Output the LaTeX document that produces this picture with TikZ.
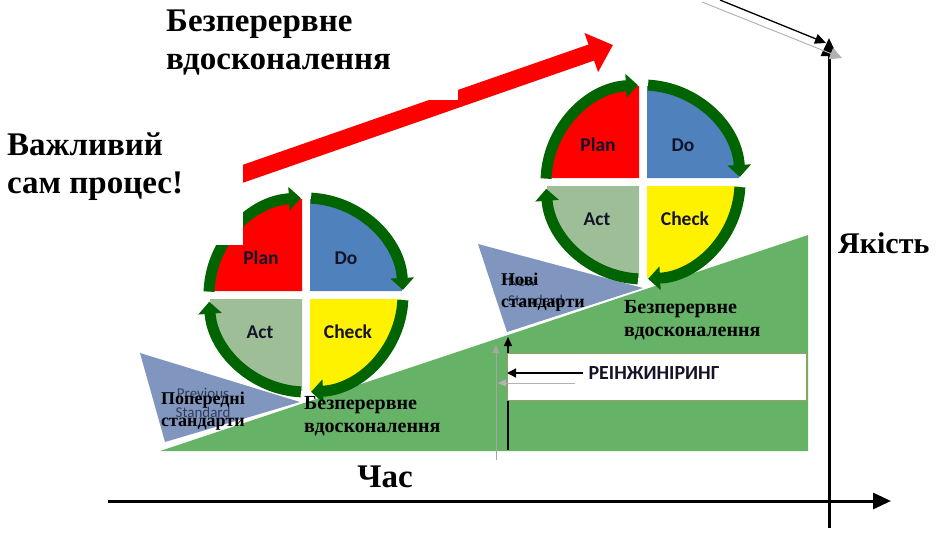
\documentclass[tikz,border=0pt]{standalone}
\usepackage{fontspec}
\setmainfont{Liberation Serif}
\newfontfamily\carlito{Carlito}
\usetikzlibrary{arrows.meta}
\definecolor{gfield}{RGB}{102,178,102}
\definecolor{tri}{RGB}{128,150,190}
\definecolor{ringg}{RGB}{0,100,0}
\definecolor{pdo}{RGB}{79,129,189}
\definecolor{pact}{RGB}{158,190,152}
\definecolor{boxedge}{RGB}{150,160,100}
\definecolor{pdcaink}{RGB}{20,20,40}
\definecolor{ghost}{RGB}{50,60,92}
\tikzset{
  ring/.style={ringg, line width=11pt, -{Triangle[length=12pt,width=23pt]}},
  pdcatext/.style={font=\carlito\bfseries\fontsize{19.5}{21}\selectfont, text=pdcaink},
  bigtext/.style={font=\bfseries\fontsize{33}{38}\selectfont, align=left, inner sep=0pt},
  midtext/.style={font=\bfseries\fontsize{20}{23}\selectfont, align=left, inner sep=0pt},
  stdtext/.style={font=\bfseries\fontsize{18}{22}\selectfont, align=left, inner sep=0pt},
  ghosttext/.style={font=\carlito\fontsize{15}{19}\selectfont, text=ghost, align=center, inner sep=0pt},
  axisline/.style={black, line width=3pt, -{Triangle[length=18pt,width=16pt]}},
  pdca/.pic={
    \begin{scope}[yscale=-1]
      \fill[red]    (-4,4)   -- ++(-92,0) arc[start angle=180,end angle=90,radius=92] -- cycle;
      \fill[pdo]    (4,4)    -- ++(0,92)  arc[start angle=90,end angle=0,radius=92] -- cycle;
      \fill[yellow] (4,-4)   -- ++(92,0)  arc[start angle=0,end angle=-90,radius=92] -- cycle;
      \fill[pact]   (-4,-4)  -- ++(0,-92) arc[start angle=-90,end angle=-180,radius=92] -- cycle;
      \draw[ring] (178:97) arc[start angle=178,end angle=93,radius=97];
      \draw[ring] (87:97) arc[start angle=87,end angle=3,radius=97];
      \draw[ring] (-3:97) arc[start angle=-3,end angle=-87,radius=97];
      \draw[ring] (-93:97) arc[start angle=-93,end angle=-176,radius=97];
      \node[pdcatext] (-plan) at (-45,37) {Plan};
      \node[pdcatext] (-do) at (40,37) {Do};
      \node[pdcatext] (-act) at (-46,-37) {Act};
      \node[pdcatext] (-check) at (42,-37) {Check};
    \end{scope}
  }
}
\begin{document}
\begin{tikzpicture}[x=1pt,y=-1pt]
\useasboundingbox (0,0) rectangle (940,536);
% green slope
\fill[gfield] (160,451) -- (808,235) -- (808,451) -- cycle;
% standards triangles
\fill[tri] (140,353) -- (300,402) -- (165,442) -- cycle;
\fill[tri] (478,244) -- (643,288) -- (507,332) -- cycle;
% reengineering verticals
\coordinate (gb) at (496,460);
\coordinate (gt) at (496,345);
\draw[black!35, line width=1pt, -{Triangle[length=8pt,width=7pt]}] (gb) -- (gt);
\coordinate (bb) at (508,450);
\coordinate (bt) at (508,337);
\draw[black, line width=1.3pt, -{Triangle[length=9pt,width=8pt]}] (bb) -- (bt);
% reengineering box
\node[draw=boxedge, line width=1pt, fill=white, minimum width=299pt, minimum height=47pt, anchor=north west, inner sep=0pt] (reb) at (507,353) {};
\node[font=\carlito\bfseries\fontsize{20}{22}\selectfont, text=pdcaink, inner sep=2pt] (rt) at (654,373) {РЕІНЖИНІРИНГ};
\draw[black, line width=1.3pt, -{Triangle[length=9pt,width=9pt]}] ([xshift=-3pt]rt.west) -- (reb.west |- rt.west);
\coordinate (ga) at (575,383);
\coordinate (gz) at (498,383);
\draw[black!30, line width=1pt, -{Triangle[length=8pt,width=7pt]}] (ga) -- (gz);
% red arrow
\coordinate (ra) at (202,188);
\coordinate (rb) at (613,45);
\draw[red, line width=17pt, -{Triangle[length=23pt,width=40pt]}] (ra) -- (rb);
% PDCA circles
\pic (c1) at (306,295) {pdca};
\pic (c2) at (643,182) {pdca};
% white text backgrounds that clip
\fill[white] (0,120) rectangle (243,245);
\fill[white] (150,0) rectangle (458,100);
% texts
\node[bigtext, anchor=north west] (top) at (166,10) {Безперервне\\вдосконалення};
\node[bigtext, anchor=north west] (imp) at (7,133) {Важливий\\сам процес!};
\node[bigtext, font=\bfseries\fontsize{30}{36}\selectfont, anchor=west] (yak) at (838,243) {Якість};
\node[bigtext, anchor=center] (chas) at (385,477) {Час};
\node[midtext, anchor=west] (ci1) at (304,416) {Безперервне\\вдосконалення};
\node[midtext, anchor=west] (ci2) at (624,320) {Безперервне\\вдосконалення};
\node[ghosttext] (prev) at (203,403) {Previous\\Standard};
\node[stdtext, anchor=west] (pst) at (161,411) {Попередні\\стандарти};
\node[ghosttext, align=left, anchor=west] (newst) at (508,291) {New\\Standard};
\node[stdtext, anchor=west] (nst) at (501,292) {Нові\\стандарти};
% axes
\coordinate (xa) at (108,501);
\coordinate (xb) at (891,501);
\coordinate (ya) at (829,528);
\coordinate (yb) at (829,38);
\draw[axisline] (xa) -- (xb);
\draw[axisline] (ya) -- (yb);
\coordinate (da) at (702,2);
\coordinate (db) at (842,58);
\draw[black!30, line width=1pt, -{Triangle[length=12pt,width=12pt]}] (da) -- (db);
\coordinate (ea) at (720,0);
\coordinate (eb) at (826,43);
\draw[black, line width=1.3pt, -{Triangle[length=11pt,width=10pt]}] (ea) -- (eb);
\end{tikzpicture}
\end{document}
